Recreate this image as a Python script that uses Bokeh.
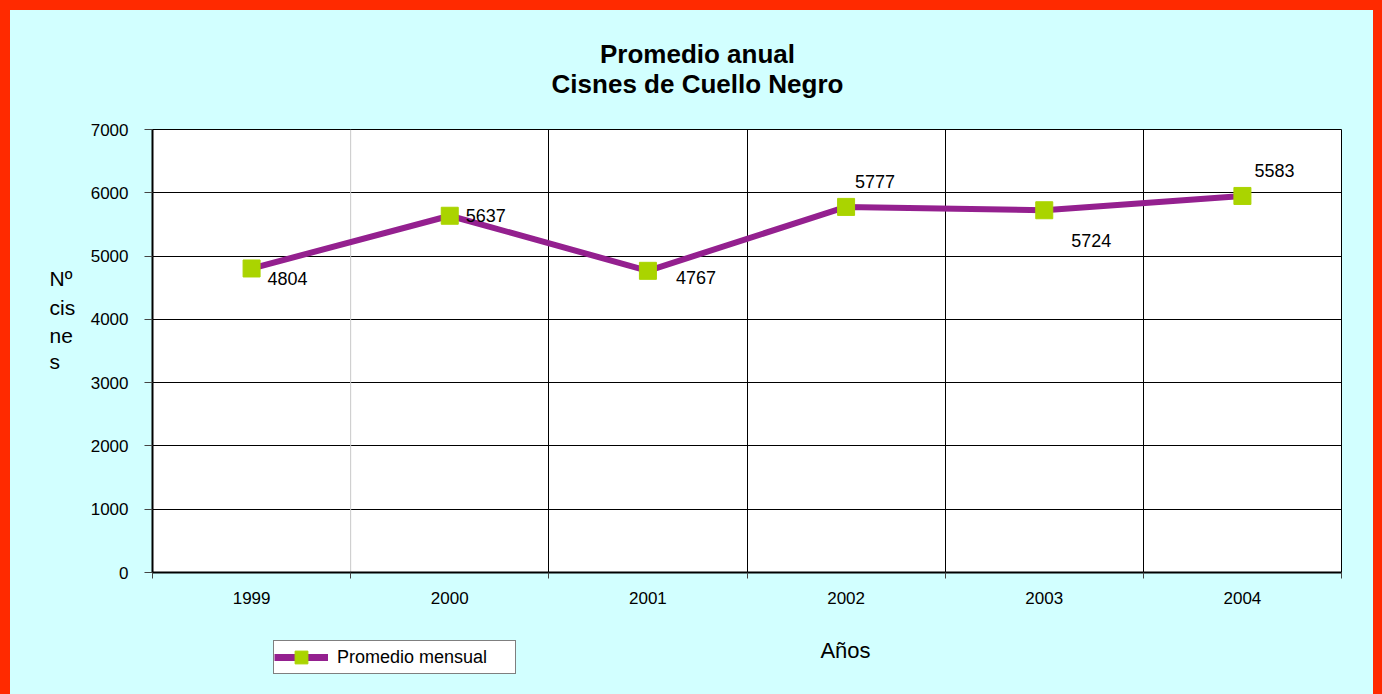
import numpy as np
from bokeh.plotting import figure
from bokeh.models import (Range1d, FixedTicker, Span, Label, Legend, LegendItem,
                          ColumnDataSource, Div)
from bokeh.layouts import row, column
from bokeh.core.properties import value
from bokeh.embed import file_html
from bokeh.resources import INLINE

# ---- data ----
years = ["1999", "2000", "2001", "2002", "2003", "2004"]
promedio = [4804, 5637, 4767, 5777, 5724, 5950]
etiquetas = ["4804", "5637", "4767", "5777", "5724", "5583"]
y_ticks = [0, 1000, 2000, 3000, 4000, 5000, 6000, 7000]
title_lines = ["Promedio anual", "Cisnes de Cuello Negro"]
ylabel_lines = ["Nº", "cis", "ne", "s"]
xlabel = "Años"
series_name = "Promedio mensual"

# ---- label placement (pixels) ----
label_dx = [16, 16, 28, 9, 27, 12]
label_dy = [10, 0, 7, -25, 30, -25]

FONT = "Liberation Sans"
RED = "#FF2A00"
CYAN = "#D2FFFF"
PURPLE = "#94208F"
GREEN = "#AAD400"
BG = {"background-color": CYAN}

n = len(years)
xc = np.arange(n) + 0.5
bounds = list(range(n + 1))

src = ColumnDataSource(dict(x=xc, y=promedio, lab=etiquetas, dx=label_dx, dy=label_dy))


def blank(w, h):
    f = figure(width=w, height=h, x_range=Range1d(0, 1), y_range=Range1d(0, 1),
               x_axis_location=None, y_axis_location=None,
               output_backend="svg", toolbar_location=None,
               min_border=0, background_fill_color=CYAN, border_fill_color=CYAN)
    f.outline_line_color = None
    f.grid.visible = False
    f.title.visible = False
    f.styles = BG
    return f


# ---------------- main chart ----------------
p = figure(width=1289, height=505,
           x_range=Range1d(0, n), y_range=Range1d(0, 7000),
           output_backend="svg", toolbar_location=None,
           min_border_left=68, min_border_right=32,
           min_border_top=14, min_border_bottom=48,
           background_fill_color="white", border_fill_color=CYAN)
p.styles = BG
p.title.visible = False
p.outline_line_color = "black"
p.outline_line_width = 1

p.yaxis.ticker = FixedTicker(ticks=y_ticks)
p.yaxis.major_tick_out = 8
p.yaxis.major_tick_in = 0
p.yaxis.minor_tick_line_color = None
p.yaxis.major_tick_line_color = "#444444"
p.yaxis.axis_line_color = "black"
p.yaxis.axis_line_width = 2
p.yaxis.major_label_standoff = 16
p.yaxis.major_label_text_font = FONT
p.yaxis.major_label_text_font_size = "17px"
p.yaxis.major_label_text_color = "black"

p.xaxis.ticker = FixedTicker(ticks=list(xc), minor_ticks=bounds)
p.xaxis.major_label_overrides = {float(x): yr for x, yr in zip(xc, years)}
p.xaxis.major_tick_out = 0
p.xaxis.major_tick_in = 0
p.xaxis.minor_tick_out = 6
p.xaxis.minor_tick_in = 0
p.xaxis.minor_tick_line_color = "#444444"
p.xaxis.axis_line_color = "black"
p.xaxis.axis_line_width = 2
p.xaxis.major_label_standoff = 13
p.xaxis.major_label_text_font = FONT
p.xaxis.major_label_text_font_size = "17px"
p.xaxis.major_label_text_color = "black"

p.ygrid.ticker = FixedTicker(ticks=y_ticks)
p.ygrid.grid_line_color = "black"
p.ygrid.grid_line_width = 1
p.xgrid.ticker = FixedTicker(ticks=bounds[2:-1])
p.xgrid.grid_line_color = "black"
p.xgrid.grid_line_width = 1
p.add_layout(Span(location=bounds[1], dimension="height", line_color="#C8C8C8",
                  line_width=1, level="underlay"))

line_r = p.line("x", "y", source=src, line_color=PURPLE, line_width=6)
pts_r = p.scatter("x", "y", source=src, marker="square", size=17,
                  fill_color=GREEN, line_color=GREEN)
p.text("x", "y", text="lab", source=src, x_offset="dx", y_offset="dy",
       text_align="left", text_baseline="middle",
       text_font=value(FONT), text_font_size="18px", text_color="black")

# ---------------- title strip ----------------
top = blank(1363, 105)
for txt, yy in zip(title_lines, [62, 32]):
    top.add_layout(Label(x=687, y=yy, x_units="screen", y_units="screen", text=txt,
                         text_align="center", text_baseline="alphabetic",
                         text_font=FONT, text_font_size="26px",
                         text_font_style="bold", text_color="black"))

# ---------------- y label strip (frame aligned with main frame) ----------------
left = blank(74, 505)
for txt, yy in zip(ylabel_lines, [294, 265, 237, 211]):
    left.add_layout(Label(x=39, y=yy, x_units="screen", y_units="screen", text=txt,
                          text_align="left", text_baseline="alphabetic",
                          text_font=FONT, text_font_size="21px", text_color="black"))

# ---------------- legend / x label strip ----------------
bottom = blank(1363, 74)
lg_line = bottom.line("x", "y", source=src, line_color=PURPLE, line_width=7)
lg_pts = bottom.scatter("x", "y", source=src, marker="square", size=17,
                        fill_color=GREEN, line_color=GREEN)
legend = Legend(items=[LegendItem(label=series_name, renderers=[lg_line, lg_pts])],
                location=(263, 20), orientation="vertical",
                glyph_width=54, glyph_height=32, padding=0, spacing=0, margin=0,
                label_standoff=9, label_width=178,
                label_text_font=FONT, label_text_font_size="18px",
                label_text_color="black",
                border_line_color="black", border_line_width=1,
                background_fill_color="white", background_fill_alpha=1)
bottom.add_layout(legend, "center")
bottom.add_layout(Label(x=835, y=44, x_units="screen", y_units="screen", text=xlabel,
                        text_align="center", text_baseline="alphabetic",
                        text_font=FONT, text_font_size="22px", text_color="black"))

# ---------------- red frame ----------------
red_left = Div(text="", width=10, height=694, margin=0,
               styles={"background-color": RED})
red_right = Div(text="", width=9, height=694, margin=0,
                styles={"background-color": RED})
red_top = Div(text="", width=1363, height=10, margin=0,
              styles={"background-color": RED})

mid = row(left, p, spacing=0, styles=BG)
inner = column(red_top, top, mid, bottom, spacing=0, styles=BG)
page = row(red_left, inner, red_right, spacing=0)

open("out.html", "w").write(file_html(page, INLINE))
